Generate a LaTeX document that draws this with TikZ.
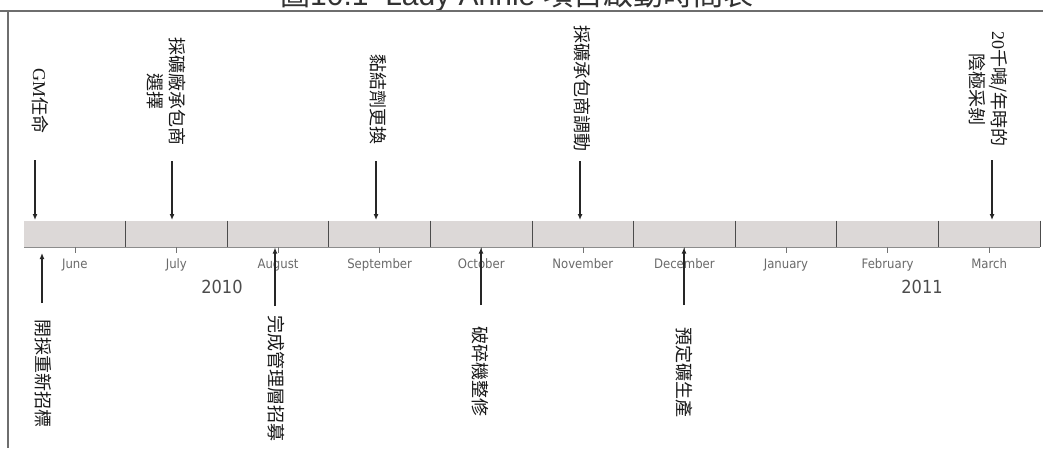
\documentclass[tikz,border=0pt]{standalone}
\usepackage{fontspec}
\setmainfont{Liberation Serif}
\newfontfamily\cjk{Noto Sans CJK TC}
\newfontfamily\lab{DejaVu Sans Condensed}
\newfontfamily\ttlfont{Liberation Sans}
\usetikzlibrary{arrows.meta}
\definecolor{barfill}{HTML}{DCD8D7}
\definecolor{frameln}{HTML}{6E6E6E}
\definecolor{labgray}{HTML}{6A6A6A}
\begin{document}
\begin{tikzpicture}[x=1pt,y=-1pt,
  evt/.style={rotate=-90, font=\fontsize{18}{22}\selectfont, align=center, inner sep=0pt, text=black!90},
  mon/.style={font=\lab\fontsize{13}{13}\selectfont, text=labgray, anchor=base},
  yr/.style={font=\lab\fontsize{18}{18}\selectfont, text=black!70, anchor=base},
  arr/.style={draw=black!85, line width=1.2pt, -{Latex[length=6pt,width=5pt]}},
  divider/.style={draw=black!70, line width=0.8pt},
  tick/.style={draw=black!55, line width=0.6pt}]
\useasboundingbox (0,0) rectangle (1043,448);
\clip (0,0) rectangle (1043,448);
\fill[white] (0,0) rectangle (1043,448);
% title (cut off at the top)
\node[font=\ttlfont\fontsize{30}{30}\selectfont, text=black!80, anchor=base, inner sep=0pt] (title) at (517,5) {{\cjk 圖}10.1 \ Lady Annie {\cjk 項目啟動時間表}};
% frame lines
\draw[frameln, line width=1.3pt] (0,11) -- (1043,11);
\draw[frameln, line width=2pt] (8,11) -- (8,448);
% bar
\fill[barfill] (24,220.5) rectangle (1040,247);
\draw[black!45, line width=0.7pt] (24,247) -- (1040,247);
\foreach \i in {1,...,10} { \draw[divider] ({24+101.6*\i},220.5) -- ({24+101.6*\i},247); }
% ticks and months
\foreach \m [count=\i from 0] in {June,July,August,September,October,November,December,January,February,March} {
  \draw[tick] ({74.8+101.6*\i},247) -- ({74.8+101.6*\i},252.5);
  \node[mon] (mon\i) at ({74.8+101.6*\i},268) {\m};
}
\node[yr] (y2010) at (222,293) {2010};
\node[yr] (y2011) at (922,293) {2011};
% top events
\node[evt] (e1) at (40,101) {GM{\cjk 任命}};
\node[evt] (e2) at (166,91) {{\cjk 採礦廠承包商}\\{\cjk 選擇}};
\node[evt] (e3) at (378,99) {{\cjk 黏結劑更換}};
\node[evt] (e4) at (582,88) {{\cjk 採礦承包商調動}};
\node[evt] (e5) at (988,89) {20{\cjk 千噸/年時的}\\{\cjk 陰極采剝}};
\coordinate (a1s) at (35,160); \coordinate (a1e) at (35,220);
\coordinate (a2s) at (172,161); \coordinate (a2e) at (172,220);
\coordinate (a3s) at (376,161); \coordinate (a3e) at (376,220);
\coordinate (a4s) at (580,161); \coordinate (a4e) at (580,220);
\coordinate (a5s) at (992,160); \coordinate (a5e) at (992,220);
\foreach \k in {1,...,5} { \draw[arr] (a\k s) -- (a\k e); }
% bottom events
\node[evt] (b1) at (43,373) {{\cjk 開採重新招標}};
\node[evt] (b2) at (276,378) {{\cjk 完成管理層招募}};
\node[evt] (b3) at (480,371) {{\cjk 破碎機整修}};
\node[evt] (b4) at (684,372) {{\cjk 預定礦生產}};
\coordinate (c1s) at (42,303); \coordinate (c1e) at (42,253);
\coordinate (c2s) at (275,306); \coordinate (c2e) at (275,247.5);
\coordinate (c3s) at (481,305); \coordinate (c3e) at (481,247.5);
\coordinate (c4s) at (684,305); \coordinate (c4e) at (684,247.5);
\foreach \k in {1,...,4} { \draw[arr] (c\k s) -- (c\k e); }
\end{tikzpicture}
\end{document}
